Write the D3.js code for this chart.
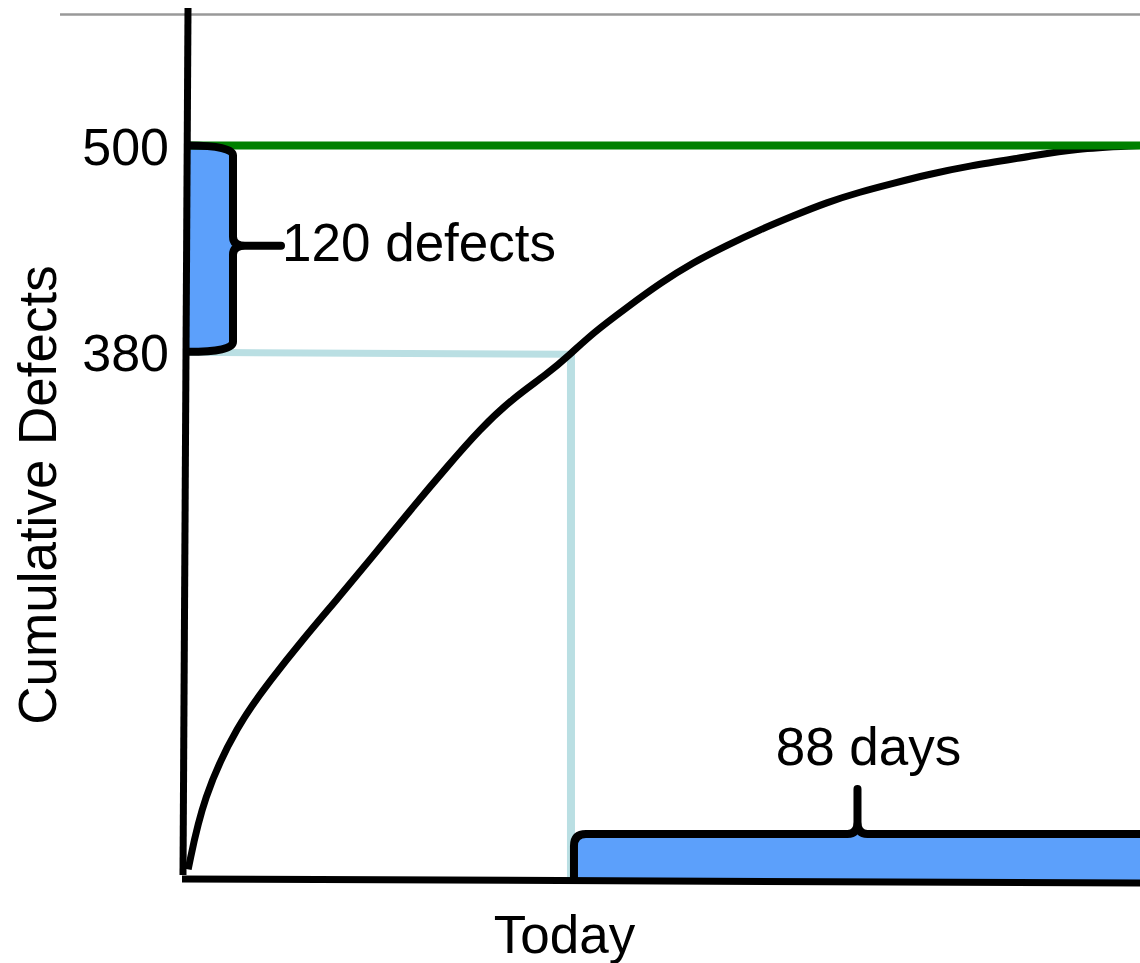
<!DOCTYPE html>
<html>
<head>
<meta charset="utf-8">
<script src="https://cdn.jsdelivr.net/npm/d3@7"></script>
<style>
  html, body { margin: 0; padding: 0; background: #fff; }
  svg text { font-family: "Liberation Sans", Arial, Helvetica, sans-serif; fill: #000; }
</style>
</head>
<body>
<div id="chart"></div>
<script>
// Datos de la curva: días relativos a "hoy" y defectos acumulados
const days = [-59.2, -56.9, -51.6, -46.5, -41.4, -36.2, -31.1, -24.4, -19.2, -14.1, -9.0, -3.7, 0,
              3.4, 8.7, 13.8, 18.9, 24.1, 29.2, 34.3, 39.6, 44.7, 49.8, 55.1, 61.2, 71.5, 77.6, 88];
const defects = [79, 121, 163, 189, 213, 236, 259, 290, 313, 335, 353, 367, 379,
                 391, 406, 420, 432, 442, 451, 459, 467, 473, 478, 483, 488, 494, 498, 500];

const yTicks = [380, 500];
const xTicks = [0];
const xTickLabels = ['Today'];

const target = 500;        // defectos totales estimados
const current = 380;       // defectos encontrados hoy
const remainingDays = 88;  // días hasta llegar al objetivo

const width = 1140, height = 963;

const svg = d3.select('#chart').append('svg')
    .attr('width', width)
    .attr('height', height);

// Escalas
const x = d3.scaleLinear().domain([-60, 88]).range([183, 1140]);
const y = d3.scaleLinear().domain([74, 580]).range([878, 8]);

const blue = '#5ca0fb';
const guide = '#badfe3';

// Línea gris superior
svg.append('line')
    .attr('x1', 60).attr('x2', width)
    .attr('y1', 14.5).attr('y2', 14.5)
    .attr('stroke', '#999').attr('stroke-width', 2.5);

// Llave izquierda (120 defects)
const xl = x(-60) + 5, xr = x(-60) + 50, tipX = x(-60) + 98;
const y0 = y(target), y1 = y(current), ym = y((target + current) / 2) - 3;

svg.append('path')
    .attr('d', `M${xl},${y0} Q${xr},${y0} ${xr},${y0 + 10} V${y1 - 10} Q${xr},${y1} ${xl},${y1} Z`)
    .attr('fill', blue);

// Llave inferior (88 days)
const bx0 = x(0) + 3, bx1 = x(remainingDays), bm = x(remainingDays / 2) + 2;
const axisY = y(74) + 2, by = axisY - 46, tipY = axisY - 91;

svg.append('path')
    .attr('d', `M${bx0},${axisY} V${by + 12} Q${bx0},${by} ${bx0 + 12},${by} H${bx1} V${axisY + 2} Z`)
    .attr('fill', blue);

// Líneas guía (hoy)
svg.append('line')
    .attr('x1', x(-60)).attr('y1', y(current) + 0.5)
    .attr('x2', x(0)).attr('y2', y(current) + 2.5)
    .attr('stroke', guide).attr('stroke-width', 7);

svg.append('line')
    .attr('x1', x(0)).attr('y1', y(current) + 2)
    .attr('x2', x(0)).attr('y2', y(74))
    .attr('stroke', guide).attr('stroke-width', 8);

// Curva de defectos acumulados
const points = days.map((d, i) => ({day: d, value: defects[i]}));
const line = d3.line()
    .x(d => x(d.day))
    .y(d => y(d.value))
    .curve(d3.curveBasis);

svg.append('path')
    .datum(points)
    .attr('fill', 'none')
    .attr('stroke', '#000')
    .attr('stroke-width', 7)
    .attr('d', line);

// Línea objetivo (verde)
svg.append('line')
    .attr('x1', x(-60) + 4).attr('x2', x(88))
    .attr('y1', y(target)).attr('y2', y(target))
    .attr('stroke', '#008000').attr('stroke-width', 8);

// Trazo de las llaves
svg.append('path')
    .attr('d', `M${xl},${y0} Q${xr},${y0} ${xr},${y0 + 10} V${ym - 9} Q${xr},${ym} ${xr + 12},${ym} H${tipX}
                M${xr + 12},${ym} Q${xr},${ym} ${xr},${ym + 9} V${y1 - 10} Q${xr},${y1} ${xl},${y1}`)
    .attr('fill', 'none')
    .attr('stroke', '#000').attr('stroke-width', 8)
    .attr('stroke-linecap', 'round').attr('stroke-linejoin', 'round');

svg.append('path')
    .attr('d', `M${bx0},${axisY} V${by + 12} Q${bx0},${by} ${bx0 + 12},${by} H${bm - 10} Q${bm},${by} ${bm},${by - 12} V${tipY}
                M${bm},${by - 12} Q${bm},${by} ${bm + 10},${by} H${bx1}`)
    .attr('fill', 'none')
    .attr('stroke', '#000').attr('stroke-width', 8)
    .attr('stroke-linecap', 'round').attr('stroke-linejoin', 'round');

// Ejes
svg.append('line')
    .attr('x1', x(-60) + 5).attr('y1', y(580))
    .attr('x2', x(-60)).attr('y2', y(74) - 3)
    .attr('stroke', '#000').attr('stroke-width', 7);

svg.append('line')
    .attr('x1', x(-60) - 1).attr('y1', y(74) + 1)
    .attr('x2', x(88)).attr('y2', y(74) + 5)
    .attr('stroke', '#000').attr('stroke-width', 7);

const yAxis = svg.append('g')
    .attr('transform', `translate(${x(-60) + 3},0)`)
    .call(d3.axisLeft(y).tickValues(yTicks).tickSize(0).tickPadding(17));
yAxis.select('.domain').remove();
yAxis.selectAll('text')
    .attr('font-size', '52px')
    .attr('font-family', '"Liberation Sans", Arial, sans-serif')
    .attr('fill', '#000')
    .attr('dy', '0.36em');

const xAxis = svg.append('g')
    .attr('transform', `translate(0,${y(74)})`)
    .call(d3.axisBottom(x).tickValues(xTicks).tickFormat((d, i) => xTickLabels[i]).tickSize(0).tickPadding(37));
xAxis.select('.domain').remove();
xAxis.selectAll('text')
    .attr('font-size', '53px')
    .attr('font-family', '"Liberation Sans", Arial, sans-serif')
    .attr('fill', '#000')
    .attr('dx', '-7');

// Etiquetas
svg.append('text')
    .attr('x', tipX + 1)
    .attr('y', ym + 15)
    .attr('font-size', '53px')
    .text(`${target - current} defects`);

svg.append('text')
    .attr('x', bm + 11)
    .attr('y', 765)
    .attr('text-anchor', 'middle')
    .attr('font-size', '53px')
    .text(`${remainingDays} days`);

svg.append('text')
    .attr('transform', 'translate(56,495) rotate(-90)')
    .attr('text-anchor', 'middle')
    .attr('font-size', '53px')
    .text('Cumulative Defects');
</script>
</body>
</html>
